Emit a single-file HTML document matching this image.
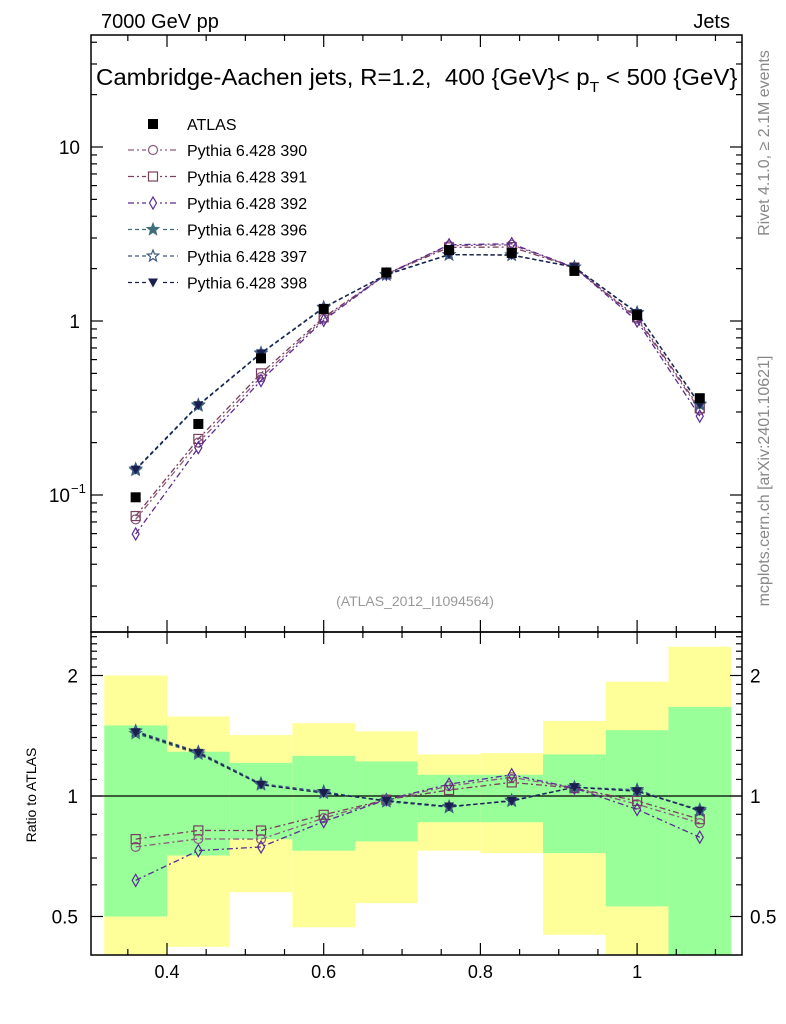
<!DOCTYPE html>
<html><head><meta charset="utf-8"><style>
body{margin:0;background:#fff;}
svg{display:block;font-family:"Liberation Sans",Arial,sans-serif;}
</style></head><body>
<svg id="c" width="786" height="1024" xmlns="http://www.w3.org/2000/svg"></svg>
<script>
const xCenters=[0.36,0.44,0.52,0.60,0.68,0.76,0.84,0.92,1.00,1.08];
const binLo=[0.32,0.40,0.48,0.56,0.64,0.72,0.80,0.88,0.96,1.04];
const binHi=[0.40,0.48,0.56,0.64,0.72,0.80,0.88,0.96,1.04,1.12];
const atlas=[0.097,0.256,0.61,1.17,1.9,2.56,2.46,1.94,1.08,0.36];
const mc390=[0.0724,0.200,0.476,1.03,1.86,2.71,2.74,2.03,1.03,0.308];
const mc391=[0.0757,0.210,0.500,1.05,1.86,2.65,2.66,2.03,1.05,0.315];
const mc392=[0.0597,0.187,0.455,1.01,1.86,2.74,2.78,2.03,1.00,0.284];
const mc396=[0.139,0.326,0.651,1.19,1.85,2.41,2.39,2.04,1.11,0.333];
const mc397=[0.141,0.330,0.655,1.20,1.84,2.40,2.40,2.04,1.12,0.330];
const mc398=[0.140,0.328,0.651,1.19,1.85,2.41,2.39,2.04,1.11,0.331];
const yellowUp=[2.0,1.58,1.42,1.52,1.45,1.27,1.28,1.54,1.93,2.36];
const yellowLo=[0.3,0.42,0.575,0.47,0.54,0.73,0.72,0.45,0.3,0.3];
const greenUp=[1.50,1.29,1.21,1.26,1.22,1.13,1.13,1.27,1.46,1.67];
const greenLo=[0.50,0.71,0.78,0.73,0.77,0.86,0.86,0.72,0.53,0.3];
const xTickLabels=[0.4,0.6,0.8,1];
const ratioTickLabels=[0.5,1,2];

const NS="http://www.w3.org/2000/svg";
const svg=document.getElementById('c');
const L=91,R=742,T=35,MB=632,RB=955;
const X=v=>167+(v-0.4)*783.5;
const Ym=v=>147-(Math.log10(v)-1)*174;
const Yr=v=>796-Math.log2(v)*120.5;
function el(tag,attrs,parent){const e=document.createElementNS(NS,tag);for(const k in attrs)e.setAttribute(k,attrs[k]);(parent||svg).appendChild(e);return e;}
function txt(s,attrs){const e=el('text',attrs);e.textContent=s;return e;}

const clipR=el('clipPath',{id:'cr'});el('rect',{x:L,y:MB,width:R-L,height:RB-MB},clipR);
const bands=el('g',{'clip-path':'url(#cr)'});

for(let i=0;i<xCenters.length;i++){
  const y1=el('rect',{x:X(binLo[i]),y:Yr(yellowUp[i]),width:X(binHi[i])-X(binLo[i]),height:Yr(yellowLo[i])-Yr(yellowUp[i]),fill:'#ffff99'},bands);
  
  const g1=el('rect',{x:X(binLo[i]),y:Yr(greenUp[i]),width:X(binHi[i])-X(binLo[i]),height:Yr(greenLo[i])-Yr(greenUp[i]),fill:'#99ff99'},bands);
  
}
el('line',{x1:L,x2:R,y1:Yr(1),y2:Yr(1),stroke:'#000','stroke-width':1.3});

const f1=el('rect',{x:L,y:T,width:R-L,height:MB-T,fill:'none',stroke:'#000','stroke-width':1.5});

const f2=el('rect',{x:L,y:MB,width:R-L,height:RB-MB,fill:'none',stroke:'#000','stroke-width':1.5});


for(let k=6;k<=22;k++){const v=k*0.05;const x=X(v);if(x<L||x>R)continue;const major=Math.abs(v/0.2-Math.round(v/0.2))<1e-6;const len=major?12:6;
  [[T,1],[MB,-1],[MB,1],[RB,-1]].forEach(([y,d])=>el('line',{x1:x,x2:x,y1:y,y2:y+d*len,stroke:'#000','stroke-width':1.2}));}
xTickLabels.forEach(v=>{const t=txt(String(v),{x:X(v),y:978,'font-size':18,'text-anchor':'middle'});});
for(let d=-2;d<=1;d++)for(let m=1;m<=9;m++){const v=m*Math.pow(10,d);const y=Ym(v);if(y<T||y>MB)continue;const len=m==1?12:6;
  el('line',{x1:L,x2:L+len,y1:y,y2:y,stroke:'#000','stroke-width':1.2});el('line',{x1:R,x2:R-len,y1:y,y2:y,stroke:'#000','stroke-width':1.2});}
let t=txt('10',{x:80,y:Ym(10)+7,'font-size':19,'text-anchor':'end'});
t=txt('1',{x:80,y:Ym(1)+7,'font-size':19,'text-anchor':'end'});
t=txt('10',{x:70,y:Ym(0.1)+7,'font-size':19,'text-anchor':'end'});
t=txt('−1',{x:71,y:Ym(0.1)-2,'font-size':13,'text-anchor':'start'});
for(let k=4;k<=25;k++){const v=k/10;const y=Yr(v);if(y<MB||y>RB)continue;const major=(k==5||k==10||k==20);const len=major?12:6;
  el('line',{x1:L,x2:L+len,y1:y,y2:y,stroke:'#000','stroke-width':1.2});el('line',{x1:R,x2:R-len,y1:y,y2:y,stroke:'#000','stroke-width':1.2});}
ratioTickLabels.forEach(v=>{let a=txt(String(v),{x:78,y:Yr(v)+7,'font-size':19,'text-anchor':'end'});
  a=txt(String(v),{x:750,y:Yr(v)+7,'font-size':19,'text-anchor':'start'});});

function marker(type,x,y,col,g){
  if(type=='sq-fill')return el('rect',{x:x-5,y:y-5,width:10,height:10,fill:'#000'},g);
  if(type=='circle')return el('circle',{cx:x,cy:y,r:4.5,fill:'none',stroke:col,'stroke-width':1.2},g);
  if(type=='square')return el('rect',{x:x-4.5,y:y-4.5,width:9,height:9,fill:'none',stroke:col,'stroke-width':1.2},g);
  if(type=='diamond')return el('polygon',{points:`${x},${y-6} ${x+3.5},${y} ${x},${y+6} ${x-3.5},${y}`,fill:'none',stroke:col,'stroke-width':1.2},g);
  if(type=='star'||type=='star-open'){let p=[];for(let i=0;i<10;i++){const r=i%2?2.6:6;const a=-Math.PI/2+i*Math.PI/5;p.push((x+r*Math.cos(a)).toFixed(1)+','+(y+r*Math.sin(a)).toFixed(1));}
    return el('polygon',{points:p.join(' '),fill:type=='star'?col:'none',stroke:col,'stroke-width':1.2},g);}
  if(type=='tri-down')return el('polygon',{points:`${x-5},${y-4} ${x+5},${y-4} ${x},${y+5}`,fill:col},g);
}
const series=[
 {name:'390',data:mc390,col:'#8a5a80',m:'circle',dash:'6,3,2,3'},
 {name:'391',data:mc391,col:'#7a3f5e',m:'square',dash:'6,3,2,3'},
 {name:'392',data:mc392,col:'#5b2a94',m:'diamond',dash:'6,3,2,3'},
 {name:'396',data:mc396,col:'#3f6f7c',m:'star',dash:'4,3'},
 {name:'397',data:mc397,col:'#3d5a80',m:'star-open',dash:'4,3'},
 {name:'398',data:mc398,col:'#1b1f50',m:'tri-down',dash:'4,3'},
];
series.forEach(s=>{
  const g=el('g',{});
  el('polyline',{points:xCenters.map((x,i)=>X(x)+','+Ym(s.data[i])).join(' '),fill:'none',stroke:s.col,'stroke-width':1.3,'stroke-dasharray':s.dash},g);
  xCenters.forEach((x,i)=>{const m=marker(s.m,X(x),Ym(s.data[i]),s.col,g);});
  const gr=el('g',{'clip-path':'url(#cr)'});
  el('polyline',{points:xCenters.map((x,i)=>X(x)+','+Yr(s.data[i]/atlas[i])).join(' '),fill:'none',stroke:s.col,'stroke-width':1.3,'stroke-dasharray':s.dash},gr);
  xCenters.forEach((x,i)=>{const m=marker(s.m,X(x),Yr(s.data[i]/atlas[i]),s.col,gr);});
});
const ga=el('g',{});
xCenters.forEach((x,i)=>{const m=marker('sq-fill',X(x),Ym(atlas[i]),'#000',ga);});

const lg=el('g',{});
marker('sq-fill',153,124,'#000',lg);
let e=txt('ATLAS',{x:187,y:130,'font-size':16});
series.forEach((s,i)=>{const y=150+i*26.5;
  el('line',{x1:128,x2:178,y1:y,y2:y,stroke:s.col,'stroke-width':1.2,'stroke-dasharray':s.dash},lg);
  el('rect',{x:146,y:y-7,width:14,height:14,fill:'#fff'},lg);
  marker(s.m,153,y,s.col,lg);
  const tt=txt('Pythia 6.428 '+s.name,{x:187,y:y+6,'font-size':16});});

t=txt('7000 GeV pp',{x:101,y:28,'font-size':20});
t=txt('Jets',{x:730,y:28,'font-size':20,'text-anchor':'end'});
const title=el('text',{x:0,y:0,'font-size':23});
title.innerHTML='Cambridge-Aachen jets, R=1.2,&#160; 400 {GeV}&lt; p<tspan font-size="15" dy="7">T</tspan><tspan dy="-7"> &lt; 500 {GeV}</tspan>';
const bw=title.getBBox().width||600;
title.setAttribute('transform',`translate(96,85) scale(${(642/bw).toFixed(4)},1)`);
t=txt('(ATLAS_2012_I1094564)',{x:415,y:606,'font-size':14,fill:'#999','text-anchor':'middle'});
t=txt('Ratio to ATLAS',{x:0,y:0,'font-size':14,'text-anchor':'middle',transform:'translate(36,795) rotate(-90)'});
t=txt('Rivet 4.1.0, ≥ 2.1M events',{x:0,y:0,'font-size':16,fill:'#888','text-anchor':'middle',transform:'translate(769,143) rotate(-90)'});
t=txt('mcplots.cern.ch [arXiv:2401.10621]',{x:0,y:0,'font-size':16,fill:'#888','text-anchor':'middle',transform:'translate(769,481) rotate(-90)'});
</script>
</body></html>
